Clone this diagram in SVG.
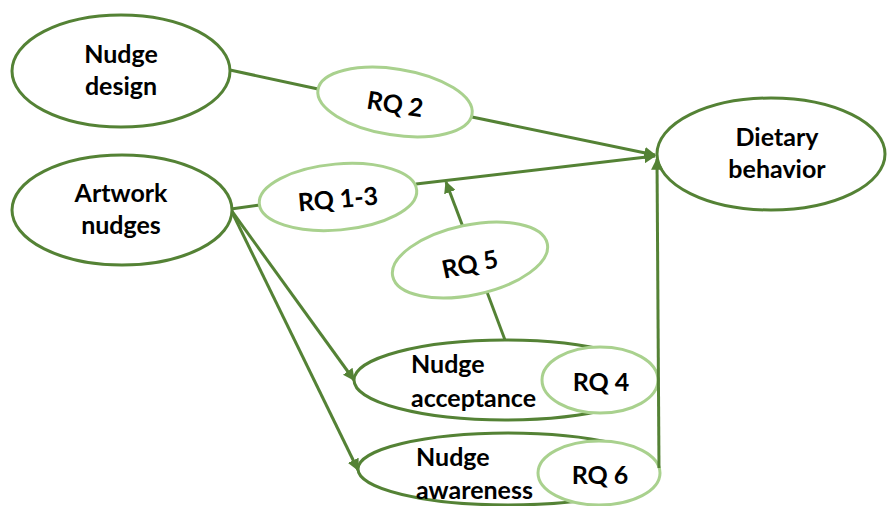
<svg xmlns="http://www.w3.org/2000/svg" width="887" height="506" viewBox="0 0 887 506">
<style>
.main{fill:#fff;stroke:#548235;stroke-width:3}
.rq{fill:#fff;stroke:#A9D18E;stroke-width:3}
.ln{fill:none;stroke:#548235;stroke-width:3}
text{font-family:Lato,"Open Sans","Liberation Sans",sans-serif;font-weight:bold;font-size:25px;fill:#000}
.c{text-anchor:middle}
</style>
<defs>
<marker id="ah" viewBox="0 0 10 10" refX="9" refY="5" markerWidth="4" markerHeight="4" orient="auto" markerUnits="strokeWidth">
<path d="M0,0 L10,5 L0,10 z" fill="#548235"/>
</marker>
</defs>
<g id="connectors">
<line class="ln" x1="230" y1="70" x2="318" y2="89"/>
<line class="ln" x1="472" y1="117" x2="655" y2="155" marker-end="url(#ah)"/>
<line class="ln" x1="231" y1="209" x2="260" y2="205"/>
<line class="ln" x1="416" y1="184" x2="655" y2="156" marker-end="url(#ah)"/>
<line class="ln" x1="463" y1="227" x2="446" y2="182" marker-end="url(#ah)"/>
<line class="ln" x1="487" y1="292" x2="505" y2="340"/>
<line class="ln" x1="231" y1="210" x2="354" y2="380" marker-end="url(#ah)"/>
<line class="ln" x1="231" y1="210" x2="358" y2="470" marker-end="url(#ah)"/>
</g>
<g id="nudge-design">
<ellipse class="main" cx="121" cy="71" rx="109" ry="56"/>
<text class="c" x="121" y="63">Nudge</text>
<text class="c" x="121" y="95">design</text>
</g>
<g id="artwork-nudges">
<ellipse class="main" cx="122" cy="210" rx="110" ry="55"/>
<text class="c" x="121" y="202">Artwork</text>
<text class="c" x="121" y="234">nudges</text>
</g>
<g id="rq2">
<ellipse class="rq" cx="395" cy="102" rx="78" ry="33" transform="rotate(9 395 102)"/>
<text class="c" x="395" y="113" transform="rotate(9 395 105)">RQ 2</text>
</g>
<g id="rq1-3">
<ellipse class="rq" cx="338" cy="197" rx="79" ry="33" transform="rotate(-5 338 197)"/>
<text class="c" x="338" y="208" transform="rotate(-5 338 200)">RQ 1-3</text>
</g>
<g id="dietary-behavior">
<ellipse class="main" cx="771" cy="154" rx="114" ry="56"/>
<text class="c" x="777" y="146">Dietary</text>
<text class="c" x="777" y="178">behavior</text>
</g>
<g id="rq5">
<ellipse class="rq" cx="470" cy="260" rx="79" ry="35" transform="rotate(-12 470 260)"/>
<text class="c" x="470" y="273" transform="rotate(-12 470 265)">RQ 5</text>
</g>
<g id="nudge-acceptance">
<ellipse class="main" cx="505" cy="380" rx="151" ry="40"/>
<text x="411" y="373">Nudge</text>
<text x="411" y="407">acceptance</text>
</g>
<g id="rq4">
<ellipse class="rq" cx="600" cy="380" rx="58" ry="33"/>
<text class="c" x="601" y="391">RQ 4</text>
</g>
<g id="nudge-awareness">
<ellipse class="main" cx="508" cy="469" rx="150" ry="36"/>
<text x="416" y="466">Nudge</text>
<text x="416" y="499">awareness</text>
</g>
<g id="rq6">
<ellipse class="rq" cx="599" cy="473" rx="61" ry="32"/>
<text class="c" x="600" y="484">RQ 6</text>
</g>
<g id="connectors-top">
<line class="ln" x1="659" y1="468" x2="657" y2="159" marker-end="url(#ah)"/>
</g>
</svg>
